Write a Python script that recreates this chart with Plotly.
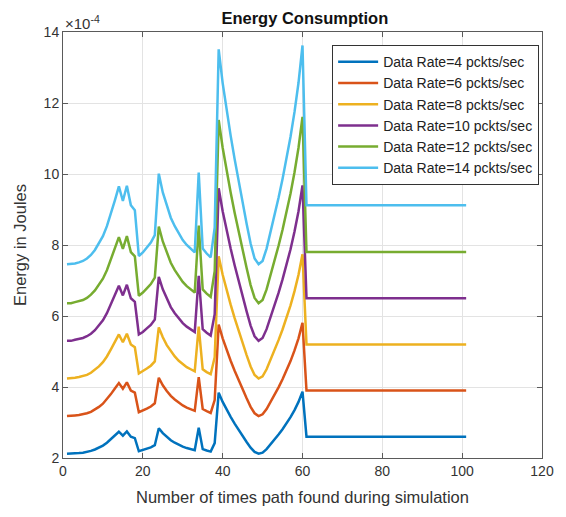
import plotly.graph_objects as go

x_runs = list(range(1, 62)) + [101]

e_rate4 = [2.12, 2.12, 2.13, 2.14, 2.15, 2.17, 2.20, 2.24, 2.29, 2.35,
           2.43, 2.53, 2.64, 2.74, 2.63, 2.75, 2.60, 2.56, 2.19, 2.22,
           2.26, 2.30, 2.36, 2.84, 2.70, 2.59, 2.50, 2.43, 2.37, 2.32,
           2.28, 2.25, 2.22, 2.85, 2.25, 2.21, 2.18, 2.42, 3.84, 3.58,
           3.36, 3.16, 2.97, 2.79, 2.62, 2.45, 2.29, 2.17, 2.12, 2.15,
           2.25, 2.38, 2.52, 2.66, 2.81, 2.97, 3.15, 3.35, 3.58, 3.87,
           2.60, 2.60]
e_rate6 = [3.18, 3.18, 3.20, 3.21, 3.23, 3.26, 3.30, 3.36, 3.44, 3.53,
           3.65, 3.80, 3.96, 4.11, 3.95, 4.13, 3.90, 3.84, 3.29, 3.33,
           3.39, 3.45, 3.54, 4.26, 4.05, 3.89, 3.75, 3.65, 3.56, 3.48,
           3.42, 3.38, 3.33, 4.28, 3.38, 3.32, 3.27, 3.63, 5.76, 5.37,
           5.04, 4.74, 4.46, 4.19, 3.93, 3.68, 3.44, 3.26, 3.18, 3.23,
           3.38, 3.57, 3.78, 3.99, 4.22, 4.46, 4.73, 5.03, 5.37, 5.81,
           3.90, 3.90]
e_rate8 = [4.24, 4.24, 4.26, 4.28, 4.30, 4.34, 4.40, 4.48, 4.58, 4.70,
           4.86, 5.06, 5.28, 5.48, 5.26, 5.50, 5.20, 5.12, 4.38, 4.44,
           4.52, 4.60, 4.72, 5.68, 5.40, 5.18, 5.00, 4.86, 4.74, 4.64,
           4.56, 4.50, 4.44, 5.70, 4.50, 4.42, 4.36, 4.84, 7.68, 7.16,
           6.72, 6.32, 5.94, 5.58, 5.24, 4.90, 4.58, 4.34, 4.24, 4.30,
           4.50, 4.76, 5.04, 5.32, 5.62, 5.94, 6.30, 6.70, 7.16, 7.74,
           5.20, 5.20]
e_rate10 = [5.30, 5.30, 5.33, 5.35, 5.38, 5.43, 5.50, 5.60, 5.73, 5.88,
            6.08, 6.33, 6.60, 6.85, 6.58, 6.88, 6.50, 6.40, 5.48, 5.55,
            5.65, 5.75, 5.90, 7.10, 6.75, 6.48, 6.25, 6.08, 5.93, 5.80,
            5.70, 5.63, 5.55, 7.13, 5.63, 5.53, 5.45, 6.05, 9.60, 8.95,
            8.40, 7.90, 7.43, 6.98, 6.55, 6.13, 5.73, 5.43, 5.30, 5.38,
            5.63, 5.95, 6.30, 6.65, 7.03, 7.43, 7.88, 8.38, 8.95, 9.68,
            6.50, 6.50]
e_rate12 = [6.36, 6.36, 6.39, 6.42, 6.45, 6.51, 6.60, 6.72, 6.87, 7.05,
            7.29, 7.59, 7.92, 8.22, 7.89, 8.25, 7.80, 7.68, 6.57, 6.66,
            6.78, 6.90, 7.08, 8.52, 8.10, 7.77, 7.50, 7.29, 7.11, 6.96,
            6.84, 6.75, 6.66, 8.55, 6.75, 6.63, 6.54, 7.26, 11.52, 10.74,
            10.08, 9.48, 8.91, 8.37, 7.86, 7.35, 6.87, 6.51, 6.36, 6.45,
            6.75, 7.14, 7.56, 7.98, 8.43, 8.91, 9.45, 10.05, 10.74, 11.61,
            7.80, 7.80]
e_rate14 = [7.46, 7.46, 7.48, 7.51, 7.55, 7.62, 7.72, 7.86, 8.04, 8.25,
            8.53, 8.88, 9.26, 9.65, 9.24, 9.67, 9.12, 8.98, 7.69, 7.79,
            7.93, 8.07, 8.28, 10.01, 9.48, 9.09, 8.77, 8.53, 8.32, 8.14,
            8.00, 7.90, 7.79, 10.04, 7.90, 7.76, 7.65, 8.49, 13.51, 12.56,
            11.78, 11.08, 10.42, 9.79, 9.19, 8.60, 8.04, 7.62, 7.46, 7.55,
            7.90, 8.35, 8.84, 9.33, 9.86, 10.42, 11.05, 11.75, 12.57, 13.62,
            9.12, 9.12]

series_names = ["Data Rate=4 pckts/sec", "Data Rate=6 pckts/sec",
                "Data Rate=8 pckts/sec", "Data Rate=10 pckts/sec",
                "Data Rate=12 pckts/sec", "Data Rate=14 pckts/sec"]
series_values = [e_rate4, e_rate6, e_rate8, e_rate10, e_rate12, e_rate14]
colors = ["#0072BD", "#D95319", "#EDB120", "#7E2F8E", "#77AC30", "#4DBEEE"]

x_ticks = [0, 20, 40, 60, 80, 100, 120]
y_ticks = [2, 4, 6, 8, 10, 12, 14]

fig = go.Figure()
for name, vals, col in zip(series_names, series_values, colors):
    fig.add_trace(go.Scatter(x=x_runs, y=vals, mode="lines", name=name,
                             line=dict(color=col, width=2.5)))

font_family = "Liberation Sans, Arial, sans-serif"
axis_common = dict(showline=True, linecolor="#5a5a5a", linewidth=1, mirror="ticks",
                   ticks="inside", ticklen=5, tickcolor="#5a5a5a",
                   showgrid=True, gridcolor="#e3e3e3", gridwidth=1,
                   zeroline=False, ticklabeloverflow="allow",
                   tickfont=dict(size=14, color="#333333", family=font_family))

# the page body adds an 8px offset; size and margins compensate for it
fig.update_layout(
    width=558, height=509,
    margin=dict(l=50, r=13, t=24, b=59),
    paper_bgcolor="white", plot_bgcolor="white",
    font=dict(family=font_family, color="#262626"),
    title=dict(text="<b>Energy Consumption</b>", x=0.532, xanchor="center",
               y=0.980, yanchor="middle", font=dict(size=16.5, color="#111111")),
    xaxis=dict(range=[0, 120], tickvals=x_ticks,
               title=dict(text="Number of times path found during simulation",
                          font=dict(size=16.5, color="#333333"), standoff=13),
               **axis_common),
    yaxis=dict(range=[2, 14], tickvals=y_ticks,
               title=dict(text="Energy in Joules", font=dict(size=16.5, color="#333333"), standoff=12),
               **axis_common),
    legend=dict(x=0.994, y=0.969, xanchor="right", yanchor="top",
                bgcolor="white", bordercolor="#333333", borderwidth=1,
                font=dict(size=14, color="#222222", family=font_family),
                itemwidth=40, tracegroupgap=0),
    showlegend=True,
)

fig.add_annotation(xref="paper", yref="paper", x=0.0, y=1.0, xanchor="left", yanchor="bottom",
                   text="\u00d710<sup>-4</sup>", showarrow=False,
                   font=dict(size=15, color="#333333", family=font_family), yshift=-2)

fig.write_html("out.html")
